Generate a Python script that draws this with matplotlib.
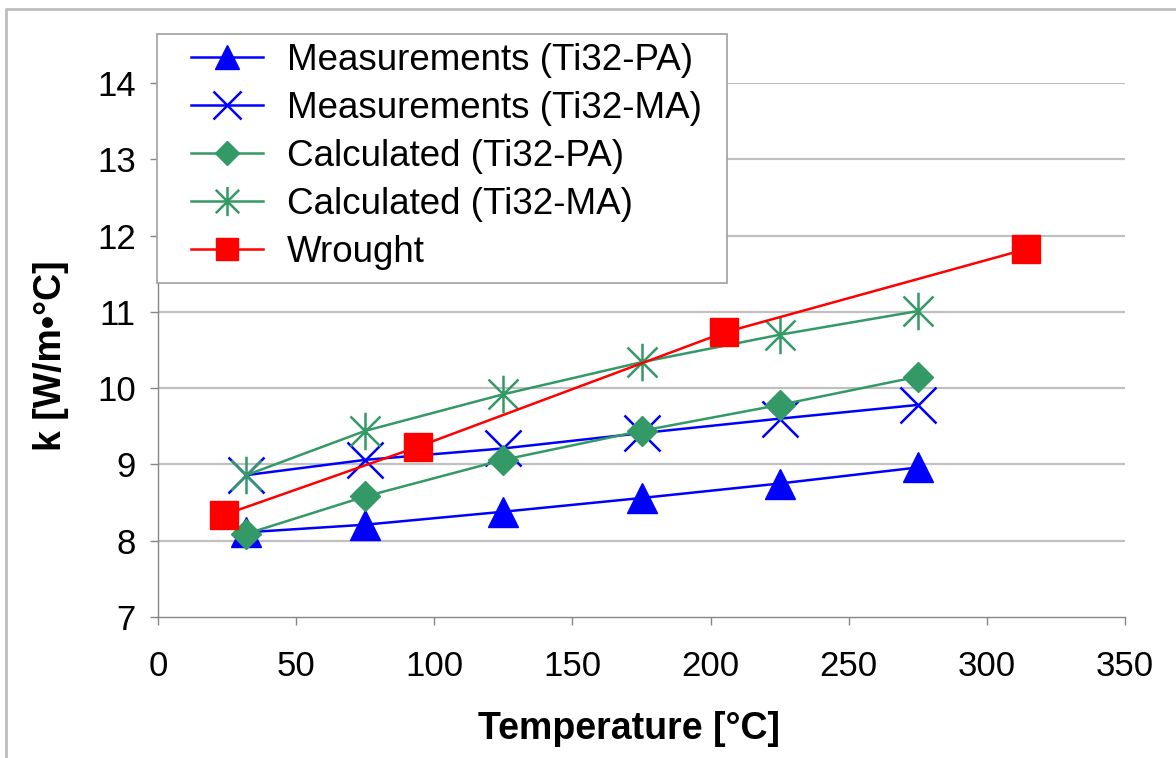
import matplotlib
matplotlib.use("Agg")
import matplotlib.pyplot as plt
from matplotlib.lines import Line2D
from matplotlib.patches import Rectangle
from matplotlib.path import Path

plt.rcParams['font.family'] = ['Liberation Sans', 'DejaVu Sans']

# --- data ---
t_meas = [32, 75, 125, 175, 225, 275]
k_meas_pa = [8.11, 8.21, 8.38, 8.56, 8.75, 8.96]
k_meas_ma = [8.86, 9.06, 9.21, 9.41, 9.60, 9.78]
k_calc_pa = [8.09, 8.58, 9.06, 9.44, 9.78, 10.15]
k_calc_ma = [8.86, 9.44, 9.92, 10.34, 10.70, 11.01]

t_wrought = [24, 94, 205, 314]
k_wrought = [8.34, 9.23, 10.73, 11.82]

labels = ["Measurements (Ti32-PA)", "Measurements (Ti32-MA)",
          "Calculated (Ti32-PA)", "Calculated (Ti32-MA)", "Wrought"]

BLUE = "#0000FF"
GREEN = "#339966"
RED = "#FF0000"

# excel style asterisk: x plus vertical bar
star = Path([(-1, -1), (1, 1), (-1, 1), (1, -1), (0, -1.25), (0, 1.25)],
            [Path.MOVETO, Path.LINETO, Path.MOVETO, Path.LINETO, Path.MOVETO, Path.LINETO])

fig = plt.figure(figsize=(11.76, 7.58), dpi=100)
W, H = 1176, 758
ax = fig.add_axes([158 / W, 1 - 617 / H, (1125 - 158) / W, (617 - 83) / H])

lw = 1.8
ax.plot(t_meas, k_meas_pa, color=BLUE, lw=lw, marker="^", ms=22, mec=BLUE, mfc=BLUE, label=labels[0], zorder=3)
ax.plot(t_meas, k_meas_ma, color=BLUE, lw=lw, marker="x", ms=26, mew=1.8, label=labels[1], zorder=3)
ax.plot(t_meas, k_calc_pa, color=GREEN, lw=lw, marker="D", ms=15.5, mec=GREEN, mfc=GREEN, label=labels[2], zorder=3)
ax.plot(t_meas, k_calc_ma, color=GREEN, lw=lw, marker=star, ms=27, mew=1.8, mfc="none", mec=GREEN, label=labels[3], zorder=3)
ax.plot(t_wrought, k_wrought, color=RED, lw=lw, marker="s", ms=20.5, mec=RED, mfc=RED, label=labels[4], zorder=3)

ax.set_xlim(0, 350)
ax.set_ylim(7, 14)
ax.set_xticks(range(0, 351, 50))
ax.set_yticks(range(7, 15))
for y in range(8, 15):
    ax.axhline(y, color="#C0C0C0", lw=1.6, zorder=1)

for s in ["top", "right"]:
    ax.spines[s].set_visible(False)
for s in ["left", "bottom"]:
    ax.spines[s].set_color("#868686")
    ax.spines[s].set_linewidth(1.0)

ax.tick_params(axis="both", direction="out", length=6, width=1, color="#868686", labelsize=25)
ax.tick_params(axis="y", pad=10)
ax.tick_params(axis="x", pad=18)

ax.set_xlabel("Temperature [°C]", fontsize=27, fontweight="bold")
ax.set_ylabel("k [W/m•°C]", fontsize=27, fontweight="bold")
ax.xaxis.set_label_coords(0.487, -0.176)
ax.yaxis.set_label_coords(-0.092, 0.49)

# legend box drawn by hand, legend content placed inside it
fig.add_artist(Rectangle((157 / W, 1 - 283 / H), (727 - 157) / W, (283 - 34) / H,
                         transform=fig.transFigure, facecolor="white", edgecolor="#A0A0A0",
                         lw=1.2, zorder=4))
leg = fig.legend(loc="upper left", bbox_to_anchor=(191 / W, 1 - 43 / H), bbox_transform=fig.transFigure,
                 fontsize=26.5, frameon=False, handlelength=1.95, handletextpad=0.65,
                 labelspacing=0.35, borderpad=0, borderaxespad=0, markerscale=0.78)
leg.set_zorder(5)

# outer chart border (left and top only visible)
fig.add_artist(Line2D([6 / W, 6 / W, 1], [0, 1 - 9 / H, 1 - 9 / H], transform=fig.transFigure,
                      color="#BDBDBD", lw=2))

fig.savefig("out.png", dpi=100)
